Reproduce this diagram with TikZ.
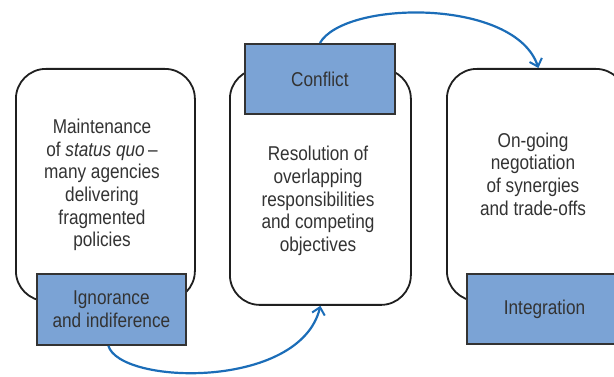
\documentclass[tikz,border=0pt]{standalone}
\usepackage{fontspec}
\setmainfont{Liberation Sans}[FakeStretch=0.86]
\usetikzlibrary{arrows.meta}
\definecolor{txtc}{HTML}{333333}
\definecolor{fillb}{HTML}{7BA3D5}
\definecolor{arrowb}{HTML}{1B6DB8}
\tikzset{
  bigbox/.style={draw=black!88, line width=1.8pt, rounded corners=30pt, fill=white, inner sep=0pt},
  tagbox/.style={draw=black!80, line width=1.8pt, fill=fillb, text=txtc, font=\fontsize{20}{23}\selectfont, align=center, inner sep=0pt},
  bodytext/.style={text=txtc, font=\fontsize{20}{22.6}\selectfont, align=center, inner sep=0pt},
  flow/.style={draw=arrowb, line width=2.2pt, -{Straight Barb[length=7pt,width=13pt,line width=2pt]}}
}
\begin{document}
\begin{tikzpicture}[x=1pt,y=-1pt]
\useasboundingbox (0,0) rectangle (614,377);
% big rounded boxes
\node[bigbox, minimum width=179pt, minimum height=232pt, anchor=north west] (b1) at (15,68) {};
\node[bigbox, minimum width=181pt, minimum height=236pt, anchor=north west] (b2) at (229,68) {};
\node[bigbox, minimum width=179pt, minimum height=232pt, anchor=north west] (b3) at (446,68) {};
% body texts
\node[bodytext] (t1) at (102,185) {Maintenance\\of \textit{status quo}\,--\\many agencies\\delivering\\fragmented\\policies};
\node[bodytext] (t2) at (318,201) {Resolution of\\overlapping\\responsibilities\\and competing\\objectives};
\node[bodytext] (t3) at (533,174) {On-going\\negotiation\\of synergies\\and trade-offs};
% tag boxes
\node[tagbox, minimum width=149pt, minimum height=71pt, anchor=north west] (r1) at (36,273) {Ignorance\\and indiference};
\node[tagbox, minimum width=150pt, minimum height=70pt, anchor=north west] (r2) at (244,43) {Conflict};
\node[tagbox, minimum width=160pt, minimum height=70pt, anchor=north west, text width=148pt, align=left] (r3) at (466,273) {\hspace{31pt}Integration};
% arrows
\draw[flow] ([xshift=-3pt]r1.south) .. controls (120,385) and (300,390) .. (b2.south);
\draw[flow] (r2.north) .. controls (345,0) and (515,-2) .. ([xshift=2pt]b3.north);
\end{tikzpicture}
\end{document}
